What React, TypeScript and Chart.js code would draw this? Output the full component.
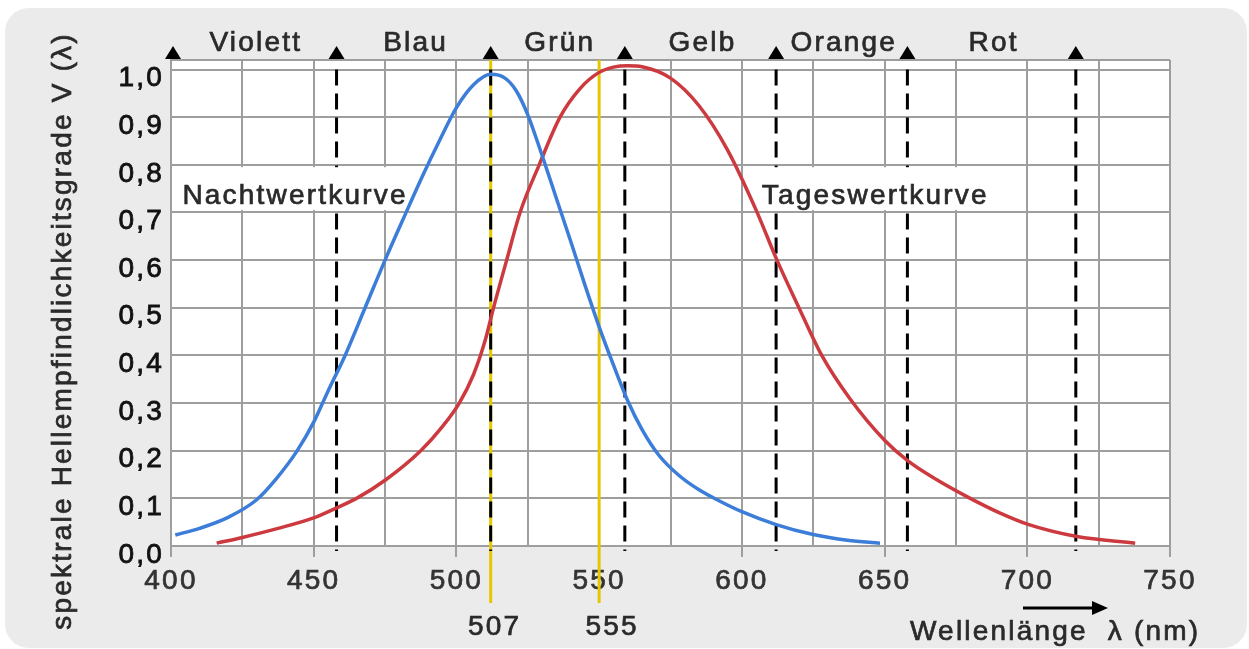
import React, { useEffect, useRef } from 'react';
import { Chart, registerables } from 'chart.js';

Chart.register(...registerables);

// ---- data ----
const nachtNm = [401.5, 410, 420, 430, 437, 444, 450, 455, 461, 468, 475, 482, 488, 494, 500, 506, 512, 517, 521, 525, 530, 535, 540, 545, 550, 555, 560, 565, 571, 578, 585, 592, 600, 612, 625, 637, 648.4];
const nachtV = [0.023, 0.037, 0.06, 0.097, 0.142, 0.198, 0.26, 0.325, 0.4, 0.5, 0.6, 0.695, 0.775, 0.85, 0.92, 0.968, 0.99, 0.982, 0.955, 0.905, 0.82, 0.73, 0.64, 0.548, 0.46, 0.38, 0.305, 0.245, 0.19, 0.148, 0.118, 0.095, 0.072, 0.045, 0.024, 0.012, 0.006];

const tagNm = [416, 425, 437.5, 450, 458, 465, 475, 487.5, 495, 501, 506, 510, 513, 517.6, 522.3, 529, 536.3, 543.3, 549.7, 555, 560, 565, 575, 585, 595, 605, 612.3, 620.4, 628, 638, 650, 658.3, 668, 680, 690.5, 700, 717.4, 737.8];
const tagV = [0.006, 0.018, 0.037, 0.059, 0.08, 0.1, 0.138, 0.2, 0.25, 0.3, 0.36, 0.43, 0.5, 0.6, 0.7, 0.8, 0.9, 0.96, 0.993, 1.005, 1.008, 1.006, 0.982, 0.924, 0.831, 0.705, 0.6, 0.495, 0.4, 0.308, 0.222, 0.178, 0.14, 0.1, 0.069, 0.046, 0.02, 0.006];

const xMin = 400;
const xMax = 750;
const xTickValues = [400, 425, 450, 475, 500, 525, 550, 575, 600, 625, 650, 675, 700, 725, 750];
const xLabelled = [400, 450, 500, 550, 600, 650, 700, 750];
const yTickValues = [0, 0.1, 0.2, 0.3, 0.4, 0.5, 0.6, 0.7, 0.8, 0.9, 1.0];
const yTop = 1.02;

const bandEdges = [400, 458, 512, 559, 612, 658, 717];
const bandNames = ['Violett', 'Blau', 'Grün', 'Gelb', 'Orange', 'Rot'];
const dashedEdges = [458, 512, 559, 612, 658, 717];

const peakNm = [512, 550];
const peakLabels = ['507', '555'];

const curveLabels = ['Nachtwertkurve', 'Tageswertkurve'];
const curveLabelNm = [404, 607];
const curveLabelV = [0.735, 0.735];

const yTitle = 'spektrale Hellempfindlichkeitsgrade V (λ)';
const xTitle = 'Wellenlänge  λ (nm)';

// ---- styles ----
const FONT = '"Liberation Sans", Arial, Helvetica, sans-serif';
const GRID = '#9e9e9e';
const BLUE = '#3b7dd8';
const RED = '#cc3a3f';
const YELLOW = '#e6c600';
const TEXT = '#2a2a2a';
const SPACING = '2.2px';

function drawText(ctx: any, s: string, x: number, y: number, size: number, color: string, align: string) {
  ctx.save();
  ctx.font = `normal ${size}px ${FONT}`;
  ctx.fillStyle = color;
  ctx.strokeStyle = color;
  ctx.lineWidth = 0.7;
  ctx.textAlign = align;
  ctx.textBaseline = 'middle';
  ctx.letterSpacing = SPACING;
  ctx.fillText(s, x, y);
  ctx.strokeText(s, x, y);
  ctx.restore();
}

const decor = {
  id: 'decor',
  beforeDraw(chart: any) {
    const { ctx, chartArea: a, width, height } = chart;
    ctx.save();
    ctx.fillStyle = '#ffffff';
    ctx.fillRect(0, 0, width, height);
    ctx.fillStyle = '#ebebeb';
    ctx.beginPath();
    ctx.roundRect(5, 8, width - 7, height - 9, 24);
    ctx.fill();
    ctx.fillStyle = '#ffffff';
    ctx.fillRect(a.left, a.top, a.right - a.left, a.bottom - a.top);
    ctx.restore();
    ctx.letterSpacing = SPACING;
  },
  beforeDatasetsDraw(chart: any) {
    const { ctx, chartArea: a } = chart;
    const xs = chart.scales.x;
    const ys = chart.scales.y;
    ctx.save();
    // yellow maxima lines
    ctx.strokeStyle = YELLOW;
    ctx.lineWidth = 3;
    peakNm.forEach((v) => {
      const px = xs.getPixelForValue(v);
      ctx.beginPath();
      ctx.moveTo(px, a.top);
      ctx.lineTo(px, 603);
      ctx.stroke();
    });
    // dashed colour boundaries
    ctx.strokeStyle = '#000';
    ctx.lineWidth = 3;
    ctx.setLineDash([16, 8]);
    dashedEdges.forEach((v) => {
      const px = xs.getPixelForValue(v);
      ctx.beginPath();
      ctx.moveTo(px, ys.getPixelForValue(1.0));
      ctx.lineTo(px, a.bottom + 5);
      ctx.stroke();
    });
    ctx.setLineDash([]);
    // curve name labels on white boxes
    curveLabels.forEach((s, i) => {
      const px = xs.getPixelForValue(curveLabelNm[i]);
      const py = ys.getPixelForValue(curveLabelV[i]);
      ctx.font = `normal 28px ${FONT}`;
      ctx.letterSpacing = SPACING;
      const w = ctx.measureText(s).width;
      ctx.fillStyle = '#ffffff';
      ctx.fillRect(px - 4, ys.getPixelForValue(0.795), w + 6, ys.getPixelForValue(0.705) - ys.getPixelForValue(0.795));
      drawText(ctx, s, px, py, 28, TEXT, 'left');
    });
    ctx.restore();
  },
  afterDraw(chart: any) {
    const { ctx, chartArea: a } = chart;
    const xs = chart.scales.x;
    ctx.save();
    // triangles at colour boundaries
    ctx.fillStyle = '#000';
    bandEdges.forEach((v) => {
      const px = xs.getPixelForValue(v) + (v === xMin ? 2 : 0);
      ctx.beginPath();
      ctx.moveTo(px - 8, a.top - 1);
      ctx.lineTo(px + 8, a.top - 1);
      ctx.lineTo(px, a.top - 14);
      ctx.closePath();
      ctx.fill();
    });
    // band names
    bandNames.forEach((s, i) => {
      const px = (xs.getPixelForValue(bandEdges[i]) + xs.getPixelForValue(bandEdges[i + 1])) / 2 + 2;
      drawText(ctx, s, px, 43, 28, TEXT, 'center');
    });
    // peak labels
    peakLabels.forEach((s, i) => {
      const px = xs.getPixelForValue(peakNm[i]) + (i === 0 ? 4 : 13);
      drawText(ctx, s, px, 627, 28, TEXT, 'center');
    });
    // x title and arrow
    drawText(ctx, xTitle, 910, 632, 28, TEXT, 'left');
    ctx.strokeStyle = '#000';
    ctx.lineWidth = 3;
    ctx.beginPath();
    ctx.moveTo(1023, 608);
    ctx.lineTo(1094, 608);
    ctx.stroke();
    ctx.beginPath();
    ctx.moveTo(1108, 608);
    ctx.lineTo(1092, 601);
    ctx.lineTo(1092, 615);
    ctx.closePath();
    ctx.fill();
    // y title
    ctx.translate(63, 331);
    ctx.rotate(-Math.PI / 2);
    drawText(ctx, yTitle, 0, 0, 28, TEXT, 'center');
    ctx.restore();
    ctx.letterSpacing = '0px';
  },
};

export default function App() {
  const ref = useRef<HTMLCanvasElement | null>(null);
  useEffect(() => {
    if (!ref.current) return;
    const chart = new Chart(ref.current, {
      type: 'line',
      data: {
        datasets: [
          {
            label: curveLabels[0],
            data: nachtNm.map((x, i) => ({ x, y: nachtV[i] })),
            borderColor: BLUE,
            borderWidth: 3.5,
            pointRadius: 0,
            cubicInterpolationMode: 'monotone',
            fill: false,
          },
          {
            label: curveLabels[1],
            data: tagNm.map((x, i) => ({ x, y: tagV[i] })),
            borderColor: RED,
            borderWidth: 3.5,
            pointRadius: 0,
            cubicInterpolationMode: 'monotone',
            fill: false,
          },
        ],
      },
      options: {
        responsive: false,
        animation: false,
        events: [],
        layout: { padding: { top: 60, right: 79, left: 0, bottom: 0 } },
        plugins: {
          legend: { display: false },
          tooltip: { enabled: false },
          title: { display: false },
        },
        scales: {
          x: {
            type: 'linear',
            min: xMin,
            max: xMax,
            afterBuildTicks: (s: any) => {
              s.ticks = xTickValues.map((v) => ({ value: v }));
            },
            afterFit: (s: any) => {
              s.height = 103;
            },
            ticks: {
              autoSkip: false,
              maxRotation: 0,
              padding: 7,
              color: '#333',
              textStrokeColor: '#333',
              textStrokeWidth: 0.7,
              font: { family: FONT, size: 28 },
              callback: (v: any) => (xLabelled.includes(Number(v)) ? String(v) : ''),
            },
            grid: {
              color: GRID,
              lineWidth: 2,
              drawTicks: true,
              tickLength: 11,
              tickWidth: 2,
              tickColor: (c: any) => (c.tick && xLabelled.includes(c.tick.value) ? GRID : 'rgba(0,0,0,0)'),
            },
            border: { color: GRID, width: 2 },
          },
          y: {
            type: 'linear',
            min: 0,
            max: yTop,
            afterBuildTicks: (s: any) => {
              s.ticks = [...yTickValues, yTop].map((v) => ({ value: v }));
            },
            afterFit: (s: any) => {
              s.width = 171;
            },
            ticks: {
              autoSkip: false,
              padding: 7,
              labelOffset: 9,
              color: '#111',
              textStrokeColor: '#111',
              textStrokeWidth: 0.8,
              font: { family: FONT, size: 28 },
              callback: (v: any) => (Number(v) > 1.001 ? '' : Number(v).toFixed(1).replace('.', ',')),
            },
            grid: { color: GRID, lineWidth: 2, drawTicks: false },
            border: { color: GRID, width: 2 },
          },
        },
      },
      plugins: [decor],
    } as any);
    return () => chart.destroy();
  }, []);
  return (
    <div style={{ position: 'fixed', left: 0, top: 0, width: 1249, height: 649 }}>
      <canvas ref={ref} width={1249} height={649} style={{ width: 1249, height: 649, display: 'block' }} />
    </div>
  );
}
